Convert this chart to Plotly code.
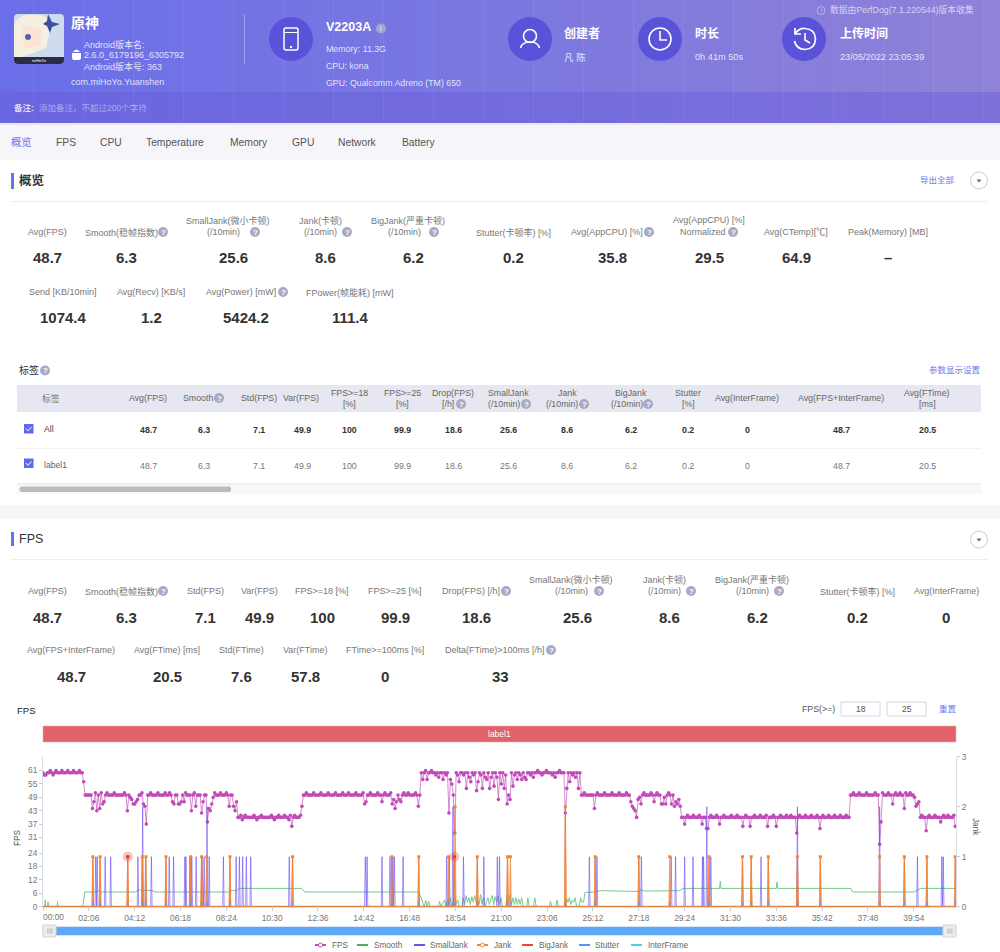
import re

import plotly.graph_objects as go

tick_seconds = [0, 126, 252, 378, 504, 630, 756, 882, 1008, 1134, 1260, 1386, 1512, 1638, 1764, 1890, 2016, 2142, 2268, 2394]
tick_labels = ["", "02:06", "04:12", "06:18", "08:24", "10:30", "12:36", "14:42", "16:48", "18:54", "21:00", "23:06",
               "25:12", "27:18", "29:24", "31:30", "33:36", "35:42", "37:48", "39:54"]
fps_ticks = [0, 6, 12, 18, 24, 31, 37, 43, 49, 55, 61]
jank_ticks = [0, 1, 2, 3]

fps_values = [
    60, 59, 59, 60, 60, 61, 60, 59, 60, 61,
    60, 60, 60, 61, 60, 60, 60, 61, 60, 60,
    60, 61, 60, 60, 60, 61, 60, 60, 56, 50,
    50, 50, 50, 50, 44, 47, 51, 43, 50, 44,
    51, 46, 47, 50, 51, 50, 50, 50, 50, 51,
    50, 50, 50, 50, 50, 50, 51, 50, 43, 50,
    49, 48, 46, 46, 47, 48, 50, 50, 51, 46,
    45, 37, 50, 50, 51, 50, 50, 50, 50, 51,
    50, 50, 50, 50, 51, 50, 50, 51, 50, 47,
    46, 50, 50, 46, 46, 47, 50, 47, 51, 50,
    50, 50, 43, 50, 51, 45, 50, 50, 50, 42,
    47, 50, 50, 38, 44, 43, 46, 49, 51, 50,
    50, 50, 51, 50, 50, 50, 51, 50, 45, 50,
    50, 45, 43, 47, 40, 40, 41, 39, 40, 41,
    40, 40, 40, 40, 40, 41, 40, 39, 40, 40,
    41, 40, 40, 40, 40, 40, 40, 41, 40, 39,
    40, 40, 41, 40, 40, 40, 41, 40, 40, 39,
    41, 36, 40, 41, 40, 40, 40, 41, 45, 50,
    50, 51, 50, 50, 50, 50, 51, 50, 50, 50,
    50, 51, 50, 50, 50, 50, 51, 50, 50, 50,
    50, 51, 50, 50, 50, 50, 51, 50, 50, 50,
    51, 50, 50, 50, 50, 51, 50, 50, 50, 50,
    51, 46, 47, 50, 50, 51, 50, 50, 50, 50,
    51, 50, 50, 47, 50, 51, 50, 50, 50, 51,
    46, 48, 44, 47, 50, 48, 47, 50, 51, 50,
    50, 51, 50, 50, 50, 50, 51, 50, 45, 50,
    60, 57, 60, 61, 57, 60, 60, 61, 60, 60,
    59, 60, 58, 60, 60, 57, 60, 59, 60, 42,
    57, 55, 50, 33, 60, 59, 56, 60, 60, 59,
    60, 53, 60, 58, 56, 60, 59, 60, 52, 56,
    60, 59, 53, 60, 58, 57, 60, 53, 58, 60,
    54, 60, 58, 48, 60, 55, 60, 53, 59, 46,
    50, 48, 60, 54, 59, 60, 57, 60, 59, 57,
    60, 58, 57, 60, 60, 59, 60, 58, 60, 60,
    61, 60, 60, 59, 60, 60, 61, 60, 60, 60,
    59, 60, 58, 60, 60, 61, 60, 60, 60, 42,
    53, 60, 56, 60, 59, 60, 58, 60, 53, 60,
    50, 50, 51, 50, 50, 50, 50, 50, 50, 44,
    50, 51, 50, 50, 50, 50, 51, 50, 50, 50,
    50, 51, 50, 50, 50, 50, 51, 50, 50, 50,
    50, 51, 50, 50, 47, 45, 44, 43, 40, 48,
    49, 46, 50, 51, 50, 50, 50, 50, 51, 50,
    47, 50, 51, 50, 50, 46, 46, 49, 46, 50,
    51, 50, 46, 50, 45, 47, 46, 48, 45, 40,
    40, 37, 40, 41, 40, 40, 40, 41, 40, 40,
    40, 41, 40, 37, 40, 40, 35, 35, 40, 41,
    40, 40, 40, 41, 40, 37, 40, 40, 41, 40,
    40, 40, 40, 41, 40, 40, 40, 41, 40, 40,
    40, 36, 40, 41, 40, 40, 36, 40, 40, 41,
    40, 40, 40, 41, 40, 40, 40, 41, 36, 40,
    40, 40, 41, 40, 36, 40, 40, 41, 40, 40,
    40, 41, 40, 40, 41, 40, 40, 40, 33, 40,
    41, 40, 40, 40, 41, 40, 40, 40, 41, 40,
    40, 40, 41, 40, 35, 40, 41, 40, 40, 40,
    41, 40, 40, 40, 41, 40, 40, 40, 41, 40,
    40, 40, 41, 40, 40, 50, 50, 51, 50, 50,
    50, 51, 50, 50, 50, 50, 51, 50, 50, 50,
    50, 50, 51, 50, 50, 28, 38, 51, 50, 50,
    50, 51, 50, 50, 46, 50, 51, 50, 50, 51,
    50, 50, 44, 51, 50, 50, 51, 50, 50, 49,
    45, 46, 47, 40, 41, 40, 40, 34, 40, 41,
    40, 40, 40, 41, 40, 40, 40, 38, 40, 41,
    40, 40, 41, 40, 40, 40, 41, 36,
]

smooth_times = [0, 5, 6, 7, 13, 14, 15, 39, 40, 41, 109, 115, 150, 155, 158, 162, 255, 262, 300, 310, 510, 522, 530, 540,
                711, 720, 1030, 1033, 1042, 1048, 1052, 1056, 1060, 1064, 1087, 1090, 1094, 1102, 1104, 1108, 1112, 1116,
                1120, 1124, 1128, 1132, 1136, 1140, 1144, 1152, 1155, 1159, 1163, 1167, 1171, 1175, 1179, 1183, 1187,
                1191, 1195, 1199, 1203, 1207, 1211, 1215, 1219, 1223, 1227, 1231, 1235, 1239, 1243, 1247, 1251, 1255,
                1259, 1263, 1272, 1276, 1280, 1284, 1288, 1292, 1296, 1300, 1304, 1308, 1312, 1316, 1320, 1330, 1333,
                1337, 1348, 1352, 1356, 1392, 1395, 1399, 1410, 1413, 1417, 1436, 1439, 1443, 1447, 1451, 1455, 1459,
                1463, 1467, 1474, 1478, 1482, 1486, 1490, 1520, 1530, 1640, 1645, 1655, 1750, 1760, 1860, 1862, 1864,
                2016, 2018, 2020, 2221, 2225, 2300, 2310, 2395, 2412, 2510]
smooth_values = [0, 0, 3, 0, 0, 2.2, 0, 0, 2.2, 0, 0, 6.6, 6.6, 7.6, 6.8, 6.6, 6.6, 7.5, 7.2, 6.6, 6.6, 7.4, 7, 8.2,
                 8.2, 6.6, 6.6, 6.6, 3, 0, 3, 0, 2.5, 0, 0, 2.5, 0, 2, 3, 0, 3, 1,
                 4, 0, 2, 4.5, 1, 3, 0, 0, 4, 1, 5, 2, 4, 1, 4.5, 2, 5,
                 2, 3, 1, 5.5, 1, 4, 0, 2, 4, 1, 3, 5, 1, 4.5, 2, 5, 1,
                 4, 0, 0, 5, 2, 5.5, 1, 4, 1, 4, 1, 3.5, 1, 4, 0, 0, 4,
                 0, 0, 4, 0, 0, 2.5, 0, 0, 3, 0, 0, 4, 2, 4, 1, 3, 2,
                 4, 0, 0, 4, 2, 2, 6.4, 6.6, 7.2, 6.8, 7.6, 7, 7.2, 8.2, 8.2, 11.5, 8.2,
                 8.2, 11, 8.2, 8.2, 6.6, 6.8, 6.6, 6.6, 8.2, 8.2]

small_jank_times = [145, 149, 171, 186, 261, 274, 282, 298, 347, 359, 390, 393, 404, 409, 421, 437, 443, 451, 457, 496,
                    531, 540, 549, 559, 571, 677, 886, 891, 932, 954, 959, 962, 966, 990, 1110, 1117, 1127, 1156, 1212,
                    1249, 1255, 1502, 1523, 1645, 1727, 1739, 1764, 1787, 1813, 1816, 1825, 1836, 1974, 2074, 2300,
                    2404, 2471, 2475]
small_jank_values = [1, 1, 1, 1, 1, 2, 1, 1, 1, 1, 1, 1, 1, 1, 1, 1, 1, 2, 1, 1,
                     1, 1, 1, 1, 1, 1, 1, 1, 1, 1, 1, 1, 1, 1, 1, 1, 2, 1, 1,
                     1, 1, 1, 1, 1, 1, 1, 1, 1, 1, 1, 2, 1, 1, 2, 2,
                     1, 1, 1]
jank_times = [137, 157, 233, 273, 283, 338, 406, 436, 450, 514, 686, 959, 1033, 1115, 1133, 1194, 1277, 1285, 1436,
              1518, 1638, 1723, 1831, 1923, 1947, 1994, 2074, 2137, 2300, 2368, 2430, 2508]
jank_values = [1, 1, 1, 1, 1, 1, 1, 1, 1, 1, 1, 1, 1, 1, 2, 1, 1, 1, 2,
               1, 1, 1, 1, 1, 1, 1, 1, 1, 1, 1, 1, 1]
big_jank_times = [137, 157, 233, 273, 338, 406, 436, 514, 686, 1033, 1131, 1194, 1277, 1436, 1518, 1638, 1831, 1923,
                  1947, 1994, 2074, 2137, 2368, 2430, 2508]
big_jank_values = [1, 1, 1, 1, 1, 1, 1, 1, 1, 1, 1, 1, 1, 2, 1, 1, 1, 1,
                   1, 1, 1, 1, 1, 1, 1]
big_jank_glow_times = [233, 1131]
big_jank_glow_values = [1, 1]
stutter_values = [0.1] * len(jank_times)
total_seconds = 2510

# metric labels and values of the two panels: (label, centre x, value, value centre x)
# a label "a|b|dx" is two lines, the second one moved by dx to leave room for the help icon
overview_row1 = [("Avg(FPS)", 47, "48.7", 47), ("Smooth(稳帧指数)", 121, "6.3", 126),
                 ("SmallJank(微小卡顿)|(/10min)|-5", 228, "25.6", 233), ("Jank(卡顿)|(/10min)|0", 320, "8.6", 325),
                 ("BigJank(严重卡顿)|(/10min)|-4", 408, "6.2", 413), ("Stutter(卡顿率) [%]", 513, "0.2", 513),
                 ("Avg(AppCPU) [%]", 607, "35.8", 612), ("Avg(AppCPU) [%]|Normalized|-6", 709, "29.5", 709),
                 ("Avg(CTemp)[℃]", 796, "64.9", 796), ("Peak(Memory) [MB]", 888, "–", 888)]
overview_row2 = [("Send [KB/10min]", 63, "1074.4", 63), ("Avg(Recv) [KB/s]", 151, "1.2", 151),
                 ("Avg(Power) [mW]", 241, "5424.2", 246), ("FPower(帧能耗) [mW]", 350, "111.4", 350)]
fps_row1 = [("Avg(FPS)", 47, "48.7", 47), ("Smooth(稳帧指数)", 121, "6.3", 126), ("Std(FPS)", 205, "7.1", 205),
            ("Var(FPS)", 259, "49.9", 259), ("FPS>=18 [%]", 322, "100", 322), ("FPS>=25 [%]", 395, "99.9", 395),
            ("Drop(FPS) [/h]", 471, "18.6", 476), ("SmallJank(微小卡顿)|(/10min)|0", 571, "25.6", 577),
            ("Jank(卡顿)|(/10min)|0", 664, "8.6", 669), ("BigJank(严重卡顿)|(/10min)|0", 752, "6.2", 757),
            ("Stutter(卡顿率) [%]", 857, "0.2", 857), ("Avg(InterFrame)", 946, "0", 946)]
fps_row2 = [("Avg(FPS+InterFrame)", 71, "48.7", 71), ("Avg(FTime) [ms]", 167, "20.5", 167),
            ("Std(FTime)", 241, "7.6", 241), ("Var(FTime)", 305, "57.8", 305), ("FTime>=100ms [%]", 385, "0", 385),
            ("Delta(FTime)>100ms [/h]", 494, "33", 500)]
help_overview = [(163, 232), (255, 232), (347, 232), (434, 232), (649, 232), (733, 232), (283, 292)]
help_fps = [(163, 591), (506, 591), (599, 591), (691, 591), (779, 591), (551, 650)]

table_headers = ["Avg(FPS)", "Smooth", "Std(FPS)", "Var(FPS)", "FPS>=18|[%]|0", "FPS>=25|[%]|0", "Drop(FPS)|[/h]|-5",
                 "SmallJank|(/10min)|-4", "Jank|(/10min)|-5", "BigJank|(/10min)|-4", "Stutter|[%]|0", "Avg(InterFrame)",
                 "Avg(FPS+InterFrame)", "Avg(FTime)|[ms]|0"]
header_centers = [148, 198, 259, 301, 349, 402, 453, 508, 567, 631, 688, 747, 841, 927]
value_centers = [148, 204, 259, 302, 349, 402, 453, 508, 567, 631, 688, 747, 841, 927]
table_row = ["48.7", "6.3", "7.1", "49.9", "100", "99.9", "18.6", "25.6", "8.6", "6.2", "0.2", "0", "48.7", "20.5"]
tabs = [("概览", 11), ("FPS", 56), ("CPU", 100), ("Temperature", 146), ("Memory", 230), ("GPU", 292), ("Network", 338),
        ("Battery", 402)]

FONT = "Liberation Sans, Noto Sans CJK SC, sans-serif"
W, H = 1000, 952
shapes = []
notes = []


def xp(x):
    return x / W


def yp(y):
    return 1 - y / H


def text(x, y, s, size=9, color="#777", anchor="center", bold=False, angle=0):
    notes.append(dict(x=xp(x), y=yp(y), xref="paper", yref="paper", text="<b>%s</b>" % s if bold else s,
                      showarrow=False, xanchor=anchor, yanchor="middle", textangle=angle, borderpad=0, borderwidth=0,
                      font=dict(size=size, color=color, family=FONT)))


def rect(x0, y0, x1, y1, fill, line=None, width=1):
    shapes.append(dict(type="rect", xref="paper", yref="paper", x0=xp(x0), x1=xp(x1), y0=yp(y0), y1=yp(y1),
                       fillcolor=fill, line=dict(color=line, width=width) if line else dict(width=0), layer="below"))


def circle(cx, cy, r, fill="rgba(0,0,0,0)", line=None, width=1):
    shapes.append(dict(type="circle", xref="paper", yref="paper", x0=xp(cx - r), x1=xp(cx + r), y0=yp(cy - r),
                       y1=yp(cy + r), fillcolor=fill,
                       line=dict(color=line, width=width) if line else dict(width=0), layer="below"))


def path(d, fill="rgba(0,0,0,0)", line=None, width=1):
    # pixel path -> paper path
    out = []
    is_x = True
    for tok in re.findall(r"[MLQCZ]|-?[\d.]+", d):
        if tok.isalpha():
            out.append(tok)
            is_x = True
        else:
            out.append(str(xp(float(tok)) if is_x else yp(float(tok))))
            is_x = not is_x
    shapes.append(dict(type="path", xref="paper", yref="paper", path=" ".join(out), fillcolor=fill,
                       line=dict(color=line, width=width) if line else dict(width=0), layer="below"))


def help_icon(cx, cy):
    circle(cx, cy, 5, fill="#a9a9c6")
    text(cx, cy, "?", size=8, color="#fff", bold=True)


def metrics(rows, label_y, value_y):
    for label, cx, value, vx in rows:
        parts = label.split("|")
        if len(parts) == 3:
            text(cx, label_y - 12, parts[0])
            text(cx + float(parts[2]), label_y, parts[1])
        else:
            text(cx, label_y, label)
        text(vx, value_y, value, size=15, color="#333", bold=True)


def mix(a, b, f):
    return "rgb(%d,%d,%d)" % tuple(a[i] + (b[i] - a[i]) * f for i in range(3))


def spike_xy(times, values):
    xs, ys, sizes = [0], [0], [0]
    for t, v in zip(times, values):
        xs += [t - 2, t, t + 2]
        ys += [0, v, 0]
        sizes += [0, 3, 0]
    xs.append(total_seconds)
    ys.append(0)
    sizes.append(0)
    return xs, ys, sizes


# page background and header
rect(0, 0, 1000, 952, "#ffffff")
rect(0, 123, 1000, 160, "#f5f5fa")
rect(0, 505, 1000, 519, "#f5f5fa")
steps = 60
for i in range(steps):
    f = i / (steps - 1)
    x0 = i * W / steps
    x1 = (i + 1) * W / steps + 0.5
    rect(x0, 0, x1, 92, mix((106, 111, 233), (143, 130, 216), f))
    rect(x0, 92, x1, 123, mix((107, 102, 225), (125, 113, 218), f))
rect(0, 123, 1000, 125, "#e9e8f4")

# app icon
path("M18 14 L60 14 Q64 14 64 18 L64 60 Q64 64 60 64 L18 64 Q14 64 14 60 L14 18 Q14 14 18 14 Z", fill="#cfdcf0")
path("M14 60 L14 24 Q20 12 38 15 Q52 16 50 30 L46 48 L30 54 Z", fill="#f5efe0")
path("M22 28 Q34 24 42 30 L40 46 L24 48 Z", fill="#fbe3d6")
circle(28, 37, 3, fill="#5560b0")
path("M14 57 L64 57 L64 60 Q64 64 60 64 L18 64 Q14 64 14 60 Z", fill="#2c2b45")
path("M48 14 L52 22 L60 24 L52 27 L50 33 L47 26 L43 24 L47 21 Z", fill="#3d4fa0")
text(39, 61, "miHoYo", size=4, color="#fff")

text(71, 23, "原神", size=14, color="#fff", anchor="left", bold=True)
android = "rgba(255,255,255,.82)"
text(84, 44, "Android版本名:", size=9, color=android, anchor="left")
text(84, 55, "2.6.0_6179196_6305792", size=9, color=android, anchor="left")
text(84, 67, "Android版本号: 363", size=9, color=android, anchor="left")
text(71, 82, "com.miHoYo.Yuanshen", size=9, color=android, anchor="left")
path("M72 53 L81 53 L81 58 Q81 60 79 60 L74 60 Q72 60 72 58 Z", fill="#fff")
path("M73 52 Q76.5 47 80 52 Z", fill="#fff")
rect(244, 14, 245, 64, "rgba(255,255,255,.3)")

for cx in [291, 530, 660, 804]:
    circle(cx, 39, 22, fill="#5a52d9")
path("M286 28 L296 28 Q298 28 298 30 L298 48 Q298 50 296 50 L286 50 Q284 50 284 48 L284 30 Q284 28 286 28 Z", line="#fff", width=1.5)
rect(285, 32, 297, 33, "#fff")
rect(290, 46, 292, 48, "#fff")
circle(530, 36, 6.5, line="#fff", width=1.6)
path("M520.5 48 Q522 42 530 42 Q538 42 539.5 48", line="#fff", width=1.6)
circle(660, 39, 11, line="#fff", width=1.6)
path("M660 31 L660 40 L667 40", line="#fff", width=1.6)
path("M795 34 Q799 28 805 28.5 Q815 29 815.5 39 Q815 49 805 49.5 Q796 49 794.5 41", line="#fff", width=1.7)
path("M795 28 L795 34 L801 34", line="#fff", width=1.7)
path("M805 33 L805 40 L810 43", line="#fff", width=1.6)

text(326, 27, "V2203A", size=12.5, color="#fff", anchor="left", bold=True)
circle(381, 28.5, 5, fill="#a7a5d0")
text(381, 28.5, "i", size=7, color="#fff")
text(326, 49, "Memory: 11.3G", size=8.8, color=android, anchor="left")
text(326, 66, "CPU: kona", size=8.8, color=android, anchor="left")
text(326, 83, "GPU: Qualcomm Adreno (TM) 650", size=8.8, color=android, anchor="left")
text(564, 34, "创建者", size=12, color="#fff", anchor="left", bold=True)
text(564, 57, "凡 陈", size=9.5, color=android, anchor="left")
text(695, 34, "时长", size=12, color="#fff", anchor="left", bold=True)
text(695, 57, "0h 41m 50s", size=9.2, color=android, anchor="left")
text(840, 34, "上传时间", size=12, color="#fff", anchor="left", bold=True)
text(840, 57, "23/05/2022 23:05:39", size=9.2, color=android, anchor="left")
circle(821, 10.5, 4, line="rgba(255,255,255,.5)", width=0.8)
text(821, 10.5, "i", size=6, color="rgba(255,255,255,.6)")
text(830, 10, "数据由PerfDog(7.1.220544)版本收集", size=8.8, color="rgba(255,255,255,.65)", anchor="left")
text(14, 108, "备注:", size=8.5, color="rgba(255,255,255,.8)", anchor="left", bold=True)
text(39, 108, "添加备注，不超过200个字符", size=8.5, color="rgba(255,255,255,.45)", anchor="left")

for name, x in tabs:
    text(x, 142, name, size=10.3, color="#6a70ee" if name == "概览" else "#555", anchor="left")

# overview panel
rect(11, 173, 14, 189, "#6a70ee")
text(19, 180, "概览", size=12.5, color="#333", anchor="left", bold=True)
rect(11, 201, 988, 202, "#eeeeee")
text(955, 180, "导出全部", size=8.5, color="#6a7af0", anchor="right")
circle(979, 180.5, 8.5, fill="#fff", line="#c9c9d6", width=1)
path("M976.5 179.5 L981.5 179.5 L979 182.5 Z", fill="#666")
metrics(overview_row1, 232, 258)
metrics(overview_row2, 292, 318)
for cx, cy in help_overview:
    help_icon(cx, cy)

# label table
text(19, 370, "标签", size=10, color="#333", anchor="left")
help_icon(45, 370.5)
text(981, 370, "参数显示设置", size=8.5, color="#6a7af0", anchor="right")
rect(17, 385, 981, 412, "#e6e7f0")
text(51, 398, "标签", size=8.8)
for name, cx in zip(table_headers, header_centers):
    parts = name.split("|")
    if len(parts) == 3:
        text(cx, 393, parts[0], size=8.8, color="#666")
        text(cx + float(parts[2]), 404, parts[1], size=8.8, color="#666")
    else:
        text(cx, 398, name, size=8.8, color="#666")
for cx, cy in [(219, 398), (461, 404), (526, 404), (584, 404), (648, 404)]:
    help_icon(cx, cy)
text(44, 429.5, "All", size=8.6, color="#444", anchor="left")
text(44, 464.5, "label1", size=8.6, color="#666", anchor="left")
for cx, val in zip(value_centers, table_row):
    text(cx, 430, val, size=8.8, color="#333", bold=True)
    text(cx, 465.5, val, size=8.8, color="#777")
for y in [424, 458.5]:
    rect(24, y, 33.5, y + 9.5, "#5f68ee")
    path("M26 %s L28 %s L31.5 %s" % (y + 4.5, y + 6.8, y + 3), line="#fff", width=1)
rect(17, 448, 981, 449, "#f2f2f5")
rect(17, 483, 981, 485, "#eeeeee")
rect(17, 485, 981, 494, "#f8f8f8")
path("M21 486.5 L230 486.5 Q232 489 230 492 L21 492 Q18 489 21 486.5 Z", fill="#bcbcc0")

# FPS panel
rect(11, 532, 14, 546, "#6a70ee")
text(19, 539, "FPS", size=12.5, color="#333", anchor="left")
rect(11, 559, 988, 560, "#eeeeee")
circle(979, 539.5, 8.5, fill="#fff", line="#c9c9d6", width=1)
path("M976.5 538.5 L981.5 538.5 L979 541.5 Z", fill="#666")
metrics(fps_row1, 591, 617)
metrics(fps_row2, 650, 676)
for cx, cy in help_fps:
    help_icon(cx, cy)

text(17, 710, "FPS", size=9.5, color="#222", anchor="left", bold=False)
text(818, 709, "FPS(>=)", size=8.8, color="#555")
rect(841, 702, 880, 716, "#fff", line="#d5d5e2")
rect(887, 702, 926, 716, "#fff", line="#d5d5e2")
text(860.5, 709, "18", size=8.5, color="#555")
text(906.5, 709, "25", size=8.5, color="#555")
text(948, 709, "重置", size=8.5, color="#6a7af0")
rect(43, 726, 956, 742, "#e0636a", line="#f0a8ac", width=0.6)
text(499, 734, "label1", size=8.5, color="#fff")

# data zoom slider
rect(43, 926.5, 956, 935.5, "#5ea9f7", line="#d6e6f8", width=1)
for x0 in [43, 943]:
    rect(x0, 925, x0 + 13, 937, "#ececef", line="#d4d4d8", width=1)
    for k in [4.5, 6.5, 8.5]:
        rect(x0 + k, 928.5, x0 + k + 0.8, 933.5, "#aaaaaa")

text(53, 917, "00:00", size=8.4, color="#777")
text(17, 838, "FPS", size=8.2, color="#555", angle=-90)
text(976, 827, "Jank", size=8.2, color="#555", angle=90)

# hand drawn legend, the one built into plotly has far wider items
legend_items = [("FPS", "#c04bb8", 315, 332), ("Smooth", "#4caf5f", 357, 374), ("SmallJank", "#6a4ff5", 414, 430),
                ("Jank", "#f5842c", 477, 494), ("BigJank", "#e04a36", 522, 539), ("Stutter", "#5b8ff9", 579, 595),
                ("InterFrame", "#4fd0dc", 631, 648)]
for name, color, x0, tx in legend_items:
    rect(x0, 944, x0 + 11, 946, color)
    if name in ("FPS", "Jank"):
        circle(x0 + 5.5, 945, 2, fill="#fff", line=color, width=1)
    text(tx, 945, name, size=8.2, color="#666", anchor="left")

fig = go.Figure()

fig.add_trace(go.Scatter(x=list(range(0, total_seconds, 4))[:len(fps_values)], y=fps_values, mode="lines+markers", name="FPS",
                         line=dict(color="rgba(192,75,184,.65)", width=1),
                         marker=dict(color="#c04bb8", size=3.6), yaxis="y"))
fig.add_trace(go.Scatter(x=smooth_times, y=smooth_values, mode="lines", name="Smooth",
                         line=dict(color="#76c98a", width=1), yaxis="y"))

xs, ys, sizes = spike_xy(small_jank_times, small_jank_values)
fig.add_trace(go.Scatter(x=xs, y=ys, mode="lines", name="SmallJank",
                         line=dict(color="rgba(106,79,245,.62)", width=1), yaxis="y2"))
xs, ys, sizes = spike_xy(big_jank_times, big_jank_values)
fig.add_trace(go.Scatter(x=xs, y=ys, mode="lines", name="BigJank",
                         line=dict(color="rgba(224,74,54,.6)", width=1), yaxis="y2"))
xs, ys, sizes = spike_xy(jank_times, jank_values)
fig.add_trace(go.Scatter(x=xs, y=ys, mode="lines+markers", name="Jank",
                         line=dict(color="rgba(245,132,44,.8)", width=1.2),
                         marker=dict(color="#f5842c", size=sizes, symbol="square", opacity=1, line=dict(width=0)),
                         yaxis="y2"))
xs, ys, sizes = spike_xy(jank_times, stutter_values)
fig.add_trace(go.Scatter(x=xs, y=ys, mode="lines", name="Stutter",
                         line=dict(color="rgba(91,143,249,.6)", width=1), yaxis="y2"))
# Jank sits on 0 for the whole run, that makes the thick orange base line
fig.add_trace(go.Scatter(x=[0, total_seconds], y=[0, 0], mode="lines", name="InterFrame",
                         line=dict(color="#f5842c", width=2), yaxis="y2"))
fig.add_trace(go.Scatter(x=big_jank_glow_times, y=big_jank_glow_values, mode="markers", name="BigJank",
                         marker=dict(color="rgba(224,60,50,.3)", size=10), yaxis="y2"))
fig.add_trace(go.Scatter(x=big_jank_glow_times, y=big_jank_glow_values, mode="markers", name="BigJank",
                         marker=dict(color="#e03c32", size=3.5), yaxis="y2"))

tickfont = dict(size=8.4, color="#777", family=FONT)
fig.update_layout(
    width=W, height=H, autosize=False,
    margin=dict(l=0, r=0, t=0, b=0),
    paper_bgcolor="#ffffff", plot_bgcolor="rgba(0,0,0,0)",
    showlegend=False,
    shapes=shapes, annotations=notes,
    xaxis=dict(domain=[xp(43), xp(956)], range=[0, total_seconds], tickmode="array", tickvals=tick_seconds,
               ticktext=tick_labels, ticks="outside", ticklen=3, tickcolor="#c8cbd8", showgrid=False, zeroline=False,
               showline=True, linecolor="#d8dae4", tickfont=tickfont, tickangle=0, anchor="y", automargin=False),
    yaxis=dict(domain=[yp(906.7), yp(756.7)], range=[0, 67.2], tickmode="array", tickvals=fps_ticks, ticks="outside",
               ticklen=3, tickcolor="#c8cbd8", showgrid=False, zeroline=False, showline=True, linecolor="#d8dae4",
               tickfont=tickfont, automargin=False),
    yaxis2=dict(domain=[yp(906.7), yp(756.7)], range=[0, 3], overlaying="y", side="right", anchor="x", tickmode="array",
                tickvals=jank_ticks, ticks="outside", ticklen=3, tickcolor="#c8cbd8", showgrid=False, zeroline=False,
                showline=True, linecolor="#d8dae4", tickfont=tickfont, automargin=False),
)

fig.write_html("out.html", config=dict(displayModeBar=False), post_script="document.body.style.margin='0';")
